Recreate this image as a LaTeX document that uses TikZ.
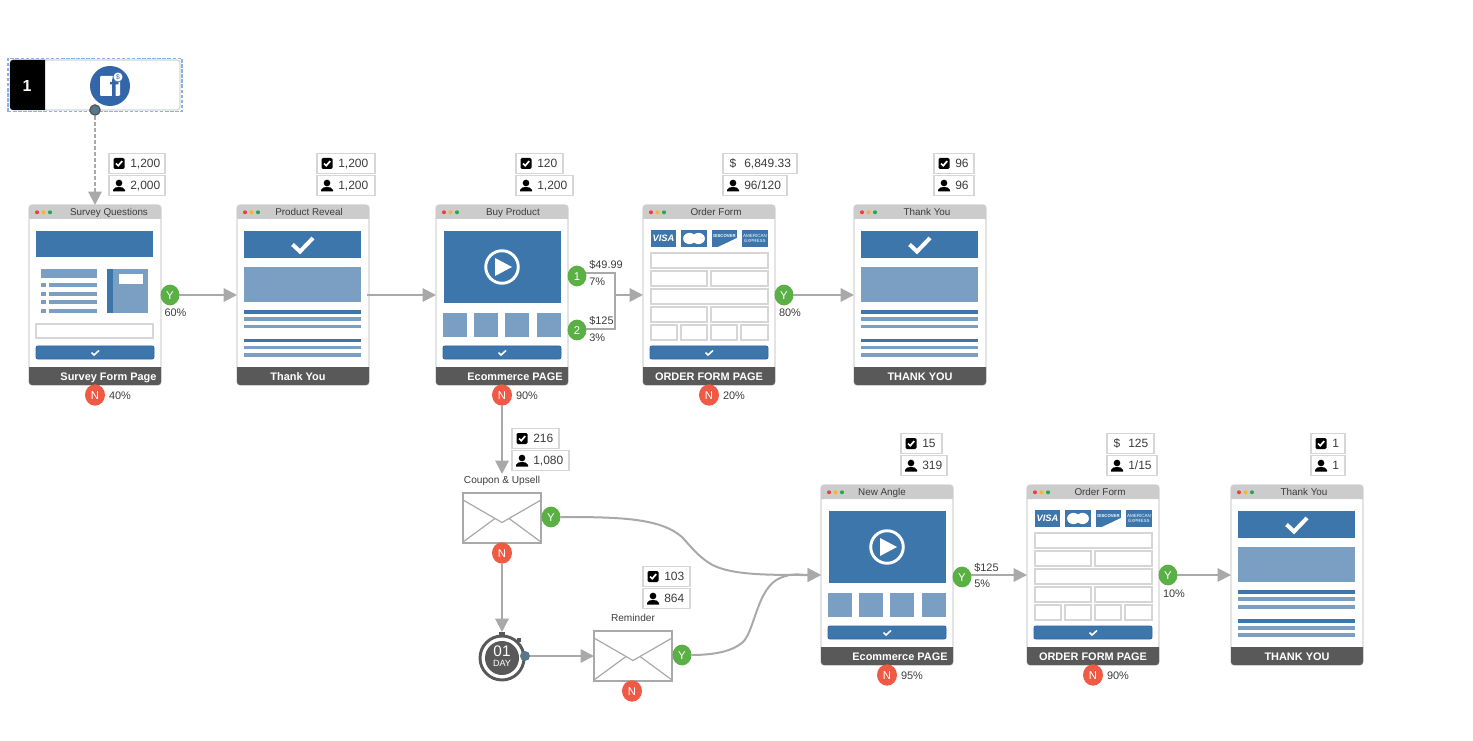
\documentclass[tikz,border=0pt]{standalone}
\usepackage{fontspec}
\setmainfont{Liberation Sans}
\usetikzlibrary{arrows.meta,shapes.geometric}
\definecolor{dk}{HTML}{3C76AB}
\definecolor{lt}{HTML}{7A9FC3}
\definecolor{bar}{HTML}{CCCCCC}
\definecolor{foot}{HTML}{595959}
\definecolor{grn}{HTML}{5AAF45}
\definecolor{rdd}{HTML}{EF5A45}
\definecolor{ln}{HTML}{A9A9A9}
\definecolor{edge}{HTML}{D6D6D6}
\definecolor{txt}{HTML}{3C3C3C}
\definecolor{fbb}{HTML}{3266A8}
\definecolor{dotc}{HTML}{56788A}
\definecolor{selc}{HTML}{8AB0F0}
\definecolor{dotr}{HTML}{E8423A}
\definecolor{doty}{HTML}{F5B33C}
\definecolor{dotg}{HTML}{22A84F}
\tikzset{
  pageframe/.style={draw=edge,line width=0.9pt,fill=white,rectangle,rounded corners=2.2pt,minimum width=99pt,minimum height=135pt,inner sep=0pt,outer sep=0pt},
  link/.style={draw=ln,line width=1.5pt,-{Triangle[length=10pt,width=10pt]}},
  plainlink/.style={draw=ln,line width=1.5pt},
  badge/.style={ellipse,text=white,font=\fontsize{8.5}{10}\selectfont,minimum width=14.2pt,minimum height=15.6pt,inner sep=0pt,outer sep=0pt,text height=6.2pt,text depth=0pt},
  yes/.style={badge,fill=grn},
  no/.style={badge,fill=rdd,minimum width=15pt,minimum height=16pt},
  lab/.style={font=\fontsize{8.2}{10}\selectfont,text=txt,inner sep=0pt,text height=6pt,text depth=0pt},
  ttl/.style={font=\fontsize{7.4}{9}\selectfont,text=txt,inner sep=0pt,text height=5.4pt,text depth=0pt},
  ftl/.style={font=\bfseries\fontsize{8.2}{10}\selectfont,text=white,inner sep=0pt,text height=6pt,text depth=0pt},
  stat/.style={draw=edge,line width=0.8pt,fill=white,inner sep=0pt},
  stattext/.style={font=\fontsize{9}{11}\selectfont,text=txt,inner sep=0pt,anchor=west,text height=6.5pt,text depth=0pt},
  formbox/.style={draw=edge,line width=0.8pt,fill=white},
  envbox/.style={draw=ln,line width=1.2pt,fill=white,rectangle,minimum width=58.5pt,minimum height=37.5pt,inner sep=0pt,outer sep=0pt},
  envline/.style={draw=ln,line width=0.9pt},
  cardtext/.style={text=white,inner sep=0pt,font=\bfseries\fontsize{3.2}{3.5}\selectfont,align=center}
}
\newcommand\okicon[2]{\fill[black,rounded corners=1.1pt] (#1-5.5,#2-5.5) rectangle (#1+5.5,#2+5.5);
  \draw[white,line width=1.3pt] (#1-3,#2) -- (#1-.8,#2+2.2) -- (#1+3.2,#2-2.4);}
\newcommand\usericon[2]{\fill[black] (#1,#2-2.5) circle (2.5pt);
  \fill[black] (#1-6,#2+6) -- (#1-6,#2+4.5) .. controls (#1-5,#2+2) and (#1-3,#2+1.5) .. (#1,#2+1.5) .. controls (#1+3,#2+1.5) and (#1+5,#2+2) .. (#1+6,#2+4.5) -- (#1+6,#2+6) -- cycle;}
% name, x, y, width, kind, text
\newcommand\statrow[6]{\node[stat,minimum width=#4*0.75pt,minimum height=15.6pt] (#1) at (#2+#4/2,#3+10.5) {};
  \ifx#5c\okicon{#2+10}{#3+10.5}\fi
  \ifx#5u\usericon{#2+10}{#3+10.5}\fi
  \ifx#5d\node[stattext,anchor=center] (#1-sym) at (#2+10,#3+10.5) {\$};\fi
  \node[stattext] (#1-txt) at (#2+21,#3+10.5) {#6};}
% name,x,y,title,titlex,footer,footerx,body
\newcommand\webpage[8]{\node[pageframe] (#1) at (#2+66,#3+90) {};
  \begin{scope}[shift={(#2,#3)}]
    \fill[bar] (0,14) [rounded corners=2.2pt] -- (0,0) -- (132,0) [sharp corners] -- (132,14) -- cycle;
    \fill[foot] (0,162) [rounded corners=2.2pt] -- (0,180) -- (132,180) [sharp corners] -- (132,162) -- cycle;
    \fill[dotr] (8,7.3) circle (1.5pt);
    \fill[doty] (14.5,7.3) circle (1.5pt);
    \fill[dotg] (21,7.3) circle (1.5pt);
    \node[ttl] (#1-title) at (#5,7.3) {#4};
    \node[ftl] (#1-foot) at (#7,171) {#6};
    #8
  \end{scope}}
\newcommand\btn{\filldraw[fill=dk,draw=fbb,line width=.7pt,rounded corners=1.5pt] (7,141) rectangle (125,154);
  \draw[white,line width=1.2pt] (62.5,147.5) -- (65,150) -- (70,145.5);}
\newcommand\surveybody{%
  \fill[dk] (7,26) rectangle (124,52);
  \fill[lt] (12,64) rectangle (68,73);
  \foreach \yy in {78,87,95,104}{\fill[lt] (12,\yy) rectangle (17,\yy+4.5); \fill[lt] (20,\yy) rectangle (68,\yy+4.5);}
  \fill[lt] (78,64) rectangle (119,108);
  \fill[dk] (78,64) rectangle (84,108);
  \fill[white] (90,69) rectangle (114,79);
  \draw[formbox] (7,119) rectangle (124,133);
  \btn}
\newcommand\thanksbody{%
  \fill[dk] (7,26) rectangle (124,53);
  \draw[white,line width=3pt] (55.5,39.5) -- (63,46.5) -- (76,33);
  \fill[lt] (7,62) rectangle (124,97);
  \fill[dk] (7,105) rectangle (124,109);
  \fill[lt] (7,112) rectangle (124,116);
  \fill[lt] (7,120) rectangle (124,123.5);
  \fill[dk] (7,134) rectangle (124,137.5);
  \fill[lt] (7,141) rectangle (124,144.5);
  \fill[lt] (7,148) rectangle (124,152);}
\newcommand\videobody{%
  \fill[dk] (7.5,26) rectangle (125,98);
  \draw[white,line width=2.2pt] (66,62) circle (12.2pt);
  \fill[white] (59,53) -- (76,62) -- (59,71) -- cycle;
  \fill[lt] (7,108) rectangle (31,132);
  \fill[lt] (38,108) rectangle (62,132);
  \fill[lt] (69,108) rectangle (93,132);
  \fill[lt] (101,108) rectangle (125,132);
  \btn}
\newcommand\orderbody[1]{%
  \fill[dk] (8,25) rectangle (33,42);
  \node[cardtext,font=\bfseries\itshape\fontsize{7}{8}\selectfont] (#1-visa) at (20.5,33.5) {VISA};
  \fill[dk] (38,25) rectangle (64,42);
  \fill[white] (46.5,33.5) ellipse (4.8pt and 4.2pt);
  \fill[white] (55.5,33.5) ellipse (4.8pt and 4.2pt);
  \fill[dk] (69,25) rectangle (94,42);
  \fill[white] (94,33) -- (94,42) -- (75,42) -- cycle;
  \node[cardtext] (#1-disc) at (81.5,31.5) {DISCOVER};
  \fill[dk] (99,25) rectangle (125,42);
  \node[cardtext,font=\fontsize{3.4}{4}\selectfont] (#1-amex) at (112,33.5) {AMERICAN\\EXPRESS};
  \draw[formbox] (8,48) rectangle (125,63);
  \draw[formbox] (8,66) rectangle (64,81);
  \draw[formbox] (68,66) rectangle (125,81);
  \draw[formbox] (8,84) rectangle (125,99);
  \draw[formbox] (8,102) rectangle (64,117);
  \draw[formbox] (68,102) rectangle (125,117);
  \draw[formbox] (8,120) rectangle (34,135);
  \draw[formbox] (38,120) rectangle (64,135);
  \draw[formbox] (68,120) rectangle (94,135);
  \draw[formbox] (98,120) rectangle (125,135);
  \btn}
\newcommand\envelope[5]{\node[envbox] (#1) at (#2,#3) {};
  \draw[envline] (#2-39,#3-18) -- (#2,#3+4.5) -- (#2+39,#3-18);
  \draw[envline] (#2-39,#3+24) -- (#2-7,#3+.5);
  \draw[envline] (#2+39,#3+24) -- (#2+7,#3+.5);
  \node[lab,font=\fontsize{7.6}{9}\selectfont] (#1-lab) at (#2,#4) {#5};}
\begin{document}
\begin{tikzpicture}[x=0.75pt,y=-0.75pt]
\useasboundingbox (0,0) rectangle (1473,741);
% source block
\node[draw=edge,line width=1pt,fill=white,rounded corners=2.5pt,minimum width=127.5pt,minimum height=37.5pt,inner sep=0pt,outer sep=0pt] (src) at (95,85) {};
\fill[black] (45,60) [rounded corners=2.2pt] -- (10,60) -- (10,110) [sharp corners] -- (45,110) -- cycle;
\node[font=\bfseries\fontsize{12}{14}\selectfont,text=white,inner sep=0pt] (srcnum) at (27,86) {1};
\node[draw=selc,line width=1.3pt,minimum width=130.5pt,minimum height=39.8pt,inner sep=0pt,outer sep=0pt,dash pattern=on 2.6pt off 1.2pt] (sel) at (95,85) {};
\node[circle,fill=fbb,minimum size=30pt,inner sep=0pt] (fb) at (110,86) {};
\fill[white,rounded corners=.8pt] (100,76) rectangle (120,96);
\node[text=fbb,font=\bfseries\fontsize{20}{20}\selectfont,inner sep=0pt,anchor=base] (fbf) at (114,96.5) {f};
\node[circle,draw=fbb,line width=.5pt,fill=white,minimum size=7.5pt,inner sep=0pt,font=\fontsize{5}{5}\selectfont,text=fbb] (coin) at (118,77) {\$};
\node[circle,draw=black!70,line width=.8pt,fill=dotc,minimum size=7.8pt,inner sep=0pt] (srcdot) at (95,110) {};

% pages
\webpage{p1}{29}{205}{Survey Questions}{80}{Survey Form Page}{79.5}{\surveybody}
\webpage{p2}{237}{205}{Product Reveal}{72}{Thank You}{61}{\thanksbody}
\webpage{p3}{436}{205}{Buy Product}{77}{Ecommerce PAGE}{79}{\videobody}
\webpage{p4}{643}{205}{Order Form}{73}{ORDER FORM PAGE}{66}{\orderbody{p4}}
\webpage{p5}{854}{205}{Thank You}{73}{THANK YOU}{66}{\thanksbody}
\webpage{p6}{821}{485}{New Angle}{61}{Ecommerce PAGE}{79}{\videobody}
\webpage{p7}{1027}{485}{Order Form}{73}{ORDER FORM PAGE}{66}{\orderbody{p7}}
\webpage{p8}{1231}{485}{Thank You}{73}{THANK YOU}{66}{\thanksbody}

% stats
\statrow{s1a}{109}{153}{56}{c}{1,200}
\statrow{s1b}{109}{175}{56}{u}{2,000}
\statrow{s2a}{317}{153}{58}{c}{1,200}
\statrow{s2b}{317}{175}{58}{u}{1,200}
\statrow{s3a}{516}{153}{47}{c}{120}
\statrow{s3b}{516}{175}{57}{u}{1,200}
\statrow{s4a}{723}{153}{74}{d}{6,849.33}
\statrow{s4b}{723}{175}{64}{u}{96/120}
\statrow{s5a}{934}{153}{40}{c}{96}
\statrow{s5b}{934}{175}{40}{u}{96}
\statrow{s6a}{512}{428}{47}{c}{216}
\statrow{s6b}{512}{450}{57}{u}{1,080}
\statrow{s7a}{643}{566}{47}{c}{103}
\statrow{s7b}{643}{588}{47}{u}{864}
\statrow{s8a}{901}{433}{41}{c}{15}
\statrow{s8b}{901}{455}{46}{u}{319}
\statrow{s9a}{1107}{433}{47}{d}{125}
\statrow{s9b}{1107}{455}{50}{u}{1/15}
\statrow{s10a}{1311}{433}{34}{c}{1}
\statrow{s10b}{1311}{455}{34}{u}{1}

% envelopes and timer
\envelope{e1}{502}{518}{479}{Coupon \& Upsell}
\envelope{e2}{633}{656}{617}{Reminder}
\fill[foot] (499,632) rectangle (505,637);
\fill[foot] (517,638) rectangle (521,642);
\node[circle,draw=foot,line width=2.2pt,fill=white,minimum size=33pt,inner sep=0pt,outer sep=0pt] (timer) at (502,658) {};
\node[circle,fill=foot,minimum size=25.5pt,inner sep=0pt] (timerin) at (502,658) {};
\node[text=white,font=\fontsize{11.5}{12}\selectfont,inner sep=0pt,text height=7.5pt,text depth=0pt] (t01) at (502,651.5) {01};
\node[text=white,font=\fontsize{6.8}{7}\selectfont,inner sep=0pt,text height=4.6pt,text depth=0pt] (tday) at (502,663) {DAY};
\node[circle,fill=dotc,minimum size=7.5pt,inner sep=0pt] (tdot) at (525,656) {};
\coordinate (timertop) at (502,632);

% badges
\node[yes] (y1) at (170,295) {Y};
\node[no] (n1) at (95,395) {N};
\node[no] (n3) at (502,395) {N};
\node[yes] (b1) at (577,276) {1};
\node[yes] (b2) at (577,330) {2};
\node[yes] (y4) at (784,295) {Y};
\node[no] (n4) at (709,395) {N};
\node[yes] (ye1) at (551,517) {Y};
\node[no] (ne1) at (502,553) {N};
\node[yes] (ye2) at (682,655) {Y};
\node[no] (ne2) at (632,691) {N};
\node[yes] (y6) at (962,577) {Y};
\node[no] (n6) at (887,675) {N};
\node[yes] (y7) at (1168,575) {Y};
\node[no] (n7) at (1093,675) {N};

% labels
\node[lab] (l1) at (175.5,313) {60\%};
\node[lab] (l2) at (120,395.5) {40\%};
\node[lab] (l3) at (527,395.5) {90\%};
\node[lab,anchor=west] (l4) at (589,265) {\$49.99};
\node[lab,anchor=west] (l5) at (589,281.5) {7\%};
\node[lab,anchor=west] (l6) at (589,321) {\$125};
\node[lab,anchor=west] (l7) at (589,337.5) {3\%};
\node[lab] (l8) at (790,313) {80\%};
\node[lab] (l9) at (734,395.5) {20\%};
\node[lab,anchor=west] (l10) at (974,567) {\$125};
\node[lab,anchor=west] (l11) at (974,583) {5\%};
\node[lab] (l12) at (1174,593) {10\%};
\node[lab] (l13) at (912,675.5) {95\%};
\node[lab] (l14) at (1118,675.5) {90\%};

% connectors
\draw[link,dash pattern=on 3pt off 1.5pt] (srcdot) -- (p1.north -| srcdot);
\draw[link] (y1) -- (p2);
\coordinate (p2out) at (367,295);
\draw[link] (p2out) -- (p3);
\coordinate (mergeTop) at (615,273);
\coordinate (mergeBot) at (615,329);
\coordinate (mergeMid) at (615,295);
\draw[plainlink] (b1.east |- mergeTop) -- (mergeTop) -- (mergeBot) -- (b2.east |- mergeBot);
\draw[link] (mergeMid) -- (p4.west |- mergeMid);
\draw[link] (y4) -- (p5);
\coordinate (e1top) at (502,474);
\draw[link] (n3) -- (e1top);
\draw[link] (ne1) -- (timertop);
\draw[link] (tdot) -- (e2);
\draw[link] (ye1) .. controls (620,517) and (660,518) .. (682,537) .. controls (692,548) and (702,561) .. (717,567) .. controls (737,575) and (770,575) .. (p6.west);
\draw[link] (ye2) .. controls (715,655) and (733,651) .. (743,642) .. controls (755,630) and (757,588) .. (780,578) .. controls (793,572.5) and (800,575) .. (p6.west);
\coordinate (y6out) at (y6.east |- p7.west);
\draw[link] (y6out) -- (p7);
\draw[link] (y7) -- (p8);
\end{tikzpicture}
\end{document}
